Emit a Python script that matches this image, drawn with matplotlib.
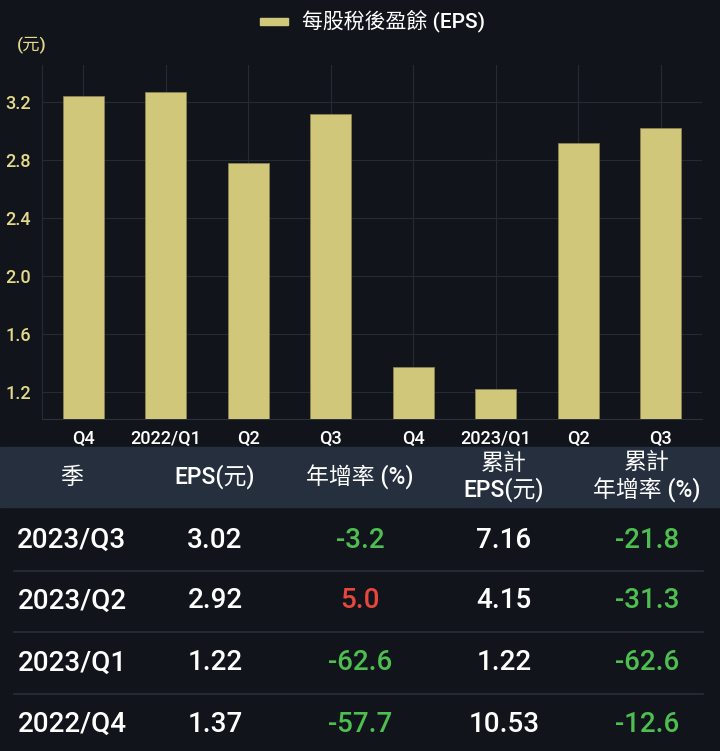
import matplotlib.pyplot as plt
import numpy as np

plt.rcParams['font.family'] = ['Roboto', 'Noto Sans CJK TC', 'DejaVu Sans']

# chart data
quarters = ['Q4', '2022/Q1', 'Q2', 'Q3', 'Q4', '2023/Q1', 'Q2', 'Q3']
eps = [3.24, 3.27, 2.78, 3.12, 1.37, 1.22, 2.92, 3.02]
yticks = [1.2, 1.6, 2.0, 2.4, 2.8, 3.2]

# table data
headers = ['季', 'EPS(元)', '年增率 (%)', '累計\nEPS(元)', '累計\n年增率 (%)']
row_season = ['2023/Q3', '2023/Q2', '2023/Q1', '2022/Q4']
row_eps = ['3.02', '2.92', '1.22', '1.37']
row_yoy = [-3.2, 5.0, -62.6, -57.7]
row_cum_eps = ['7.16', '4.15', '1.22', '10.53']
row_cum_yoy = [-21.8, -31.3, -62.6, -12.6]

bg = '#11141b'
bar_color = '#d0c77b'
tick_yellow = '#e4da8a'
green = '#4cbf50'
red = '#e8473b'

W, H = 720, 751
fig = plt.figure(figsize=(7.2, 7.51), dpi=100, facecolor=bg)

def fx(px):
    return px / W

def fy(py):
    return 1 - py / H

ax = fig.add_axes([fx(42), fy(419), fx(702) - fx(42), fy(65) - fy(419)])
ax.set_facecolor(bg)
x = np.arange(len(quarters))
ax.bar(x, eps, width=0.5, color=bar_color, edgecolor='#8a844f', linewidth=0.6, zorder=3)
ax.set_xlim(-0.5, len(quarters) - 0.5)
ax.set_ylim(1.013, 3.456)
ax.set_yticks(yticks)
ax.set_yticklabels([f'{v:.1f}' for v in yticks], color=tick_yellow, fontsize=13,
                   fontweight='medium')
ax.set_xticks(x)
ax.set_xticklabels(quarters, color='white', fontsize=13, fontweight='medium')
ax.tick_params(length=0, pad=8)
ax.tick_params(axis='y', pad=8)
ax.grid(True, color='#262a33', linewidth=0.8, zorder=0)
for s in ['top', 'right']:
    ax.spines[s].set_visible(False)
ax.spines['left'].set_color('#262a33')
ax.spines['bottom'].set_color('#2e323b')

fig.text(fx(32), fy(45), '(元)', color=tick_yellow, fontsize=12.5, fontweight='medium',
         ha='center', va='center')

# legend
fig.patches.append(plt.Rectangle((fx(260), fy(25)), fx(28), fy(18) - fy(25),
                                 transform=fig.transFigure, color=bar_color))
fig.text(fx(302), fy(21), '每股稅後盈餘 (EPS)', color='white', fontsize=15,
         fontweight='medium', ha='left', va='center')

# table header band
fig.patches.append(plt.Rectangle((0, fy(507)), 1, fy(447) - fy(507),
                                 transform=fig.transFigure, color='#262f3e'))
col_x = [72, 215, 360, 504, 647]
for cx, h in zip(col_x, headers):
    fig.text(fx(cx), fy(477), h, color='white', fontsize=16.5, fontweight='medium',
             ha='center', va='center', linespacing=1.15)

row_y = [540, 601, 663, 724]

def pct_color(v):
    return red if v > 0 else green

for i, ry in enumerate(row_y):
    cells = [(row_season[i], 'white'), (row_eps[i], 'white'),
             (f'{row_yoy[i]:.1f}', pct_color(row_yoy[i])),
             (row_cum_eps[i], 'white'),
             (f'{row_cum_yoy[i]:.1f}', pct_color(row_cum_yoy[i]))]
    for cx, (txt, c) in zip(col_x, cells):
        fig.text(fx(cx), fy(ry), txt, color=c, fontsize=20, fontweight='medium',
                 ha='center', va='center')
    if i < len(row_y) - 1:
        sep = (ry + row_y[i + 1]) / 2
        fig.add_artist(plt.Line2D([fx(14), fx(703)], [fy(sep), fy(sep)],
                                  transform=fig.transFigure, color='#2a2e37', linewidth=1.2))

fig.savefig('out.png', dpi=100, facecolor=bg)
